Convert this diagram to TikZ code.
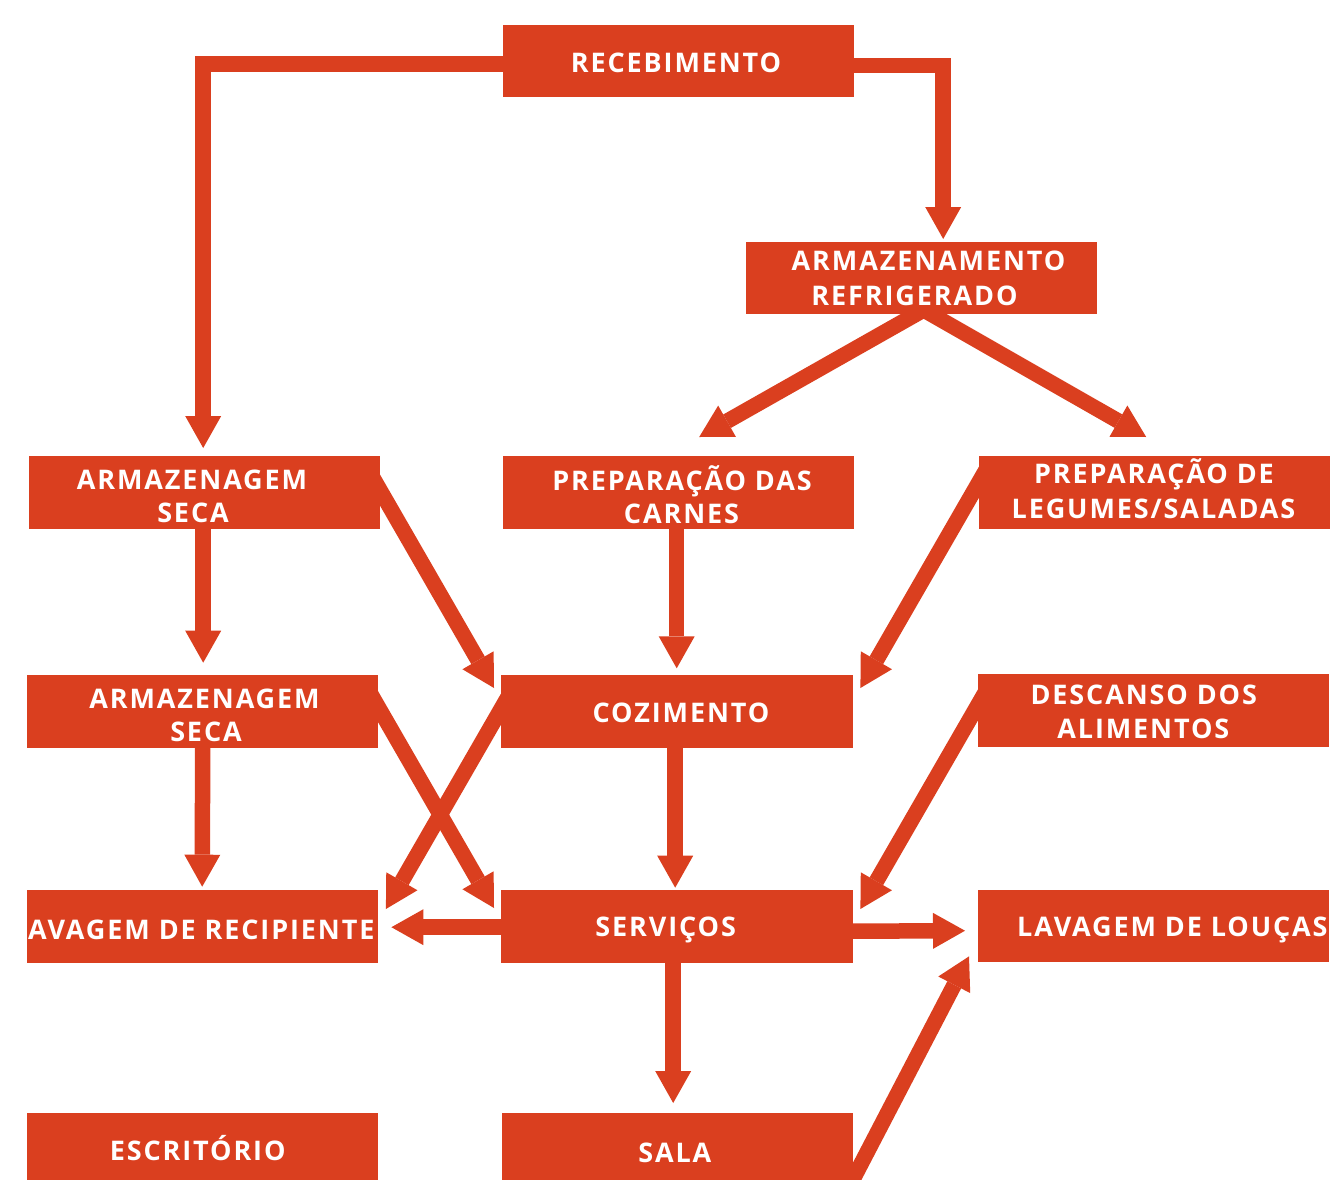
\documentclass[tikz,border=0pt]{standalone}
\usepackage{fontspec}
\setmainfont{Open Sans}
\newfontfamily\lblfam{Open Sans}[LetterSpace=7]
\usetikzlibrary{arrows.meta,calc}
\definecolor{brick}{HTML}{DA3F1F}
\newcommand\lblfont{\lblfam\bfseries\fontsize{27}{29}\selectfont}
\begin{document}
\begin{tikzpicture}[x=1pt,y=-1pt,
  box/.style={fill=brick, draw=none, inner sep=0pt, minimum width=351pt, minimum height=73pt, anchor=north west},
  lbl/.style={text=white, font=\lblfont, inner sep=0pt, anchor=base},
  flow/.style={draw=brick, line width=15.5pt, line join=miter, line cap=butt,
    -{Triangle[length=32pt 0 0,width=36pt 0 0,line width=0pt]}},
]
\useasboundingbox (0,0) rectangle (1338,1180);
% boxes
\node[box, minimum height=72pt] (rec) at (503,25) {};
\node[box, minimum height=72pt] (ref) at (746,242) {};
\node[box] (sec1) at (29,456) {};
\node[box] (car) at (503,456) {};
\node[box] (leg) at (979,456) {};
\node[box] (sec2) at (27,675) {};
\node[box, minimum width=352pt] (coz) at (501,675) {};
\node[box] (des) at (978,674) {};
\node[box] (lrec) at (27,890) {};
\node[box, minimum width=352pt] (ser) at (501,890) {};
\node[box, minimum height=72pt] (lou) at (978,890) {};
\node[box] (esc) at (27,1113) {};
\node[box] (sala) at (502,1113) {};
% connectors
\draw[flow] ($(rec.west)+(2,3)$) -| ($(sec1.north)+(-1.5,-8)$);
\draw[flow] ($(rec.east)+(-2,4.5)$) -| ($(ref.north)+(21.5,-3)$);
\coordinate (apex) at ($(ref.south)+(2,-4.5)$);
\draw[flow] (apex) -- ($(car.north)+(20.5,-19)$);
\draw[flow] (apex) -- ($(leg.north)+(-8.5,-19)$);
\draw[flow] ($(sec1.south)+(-1.5,-2)$) -- ($(sec2.north)+(0.5,-12.3)$);
\draw[flow] ($(sec1.east)+(-8,-15.8)$) -- ($(coz.north west)+(-7,13)$);
\draw[flow] ($(car.south)+(-2,-2)$) -- ($(coz.north)+(-0.5,-6.7)$);
\draw[flow] ($(leg.west)+(8,-24.5)$) -- ($(coz.north east)+(7,13)$);
\draw[flow] ($(sec2.south)+(0,-2)$) -- ($(lrec.north)+(-0.5,-3.3)$);
\draw[flow] ($(sec2.east)+(-8,-18.3)$) -- ($(ser.north west)+(-7,18)$);
\draw[flow] ($(coz.west)+(8,-16.5)$) -- ($(lrec.north east)+(7.5,19)$);
\draw[flow] ($(coz.south)+(-2,-2)$) -- ($(ser.north)+(-2,-2.3)$);
\draw[flow] ($(des.west)+(8,-19.7)$) -- ($(ser.north east)+(7,19)$);
\draw[flow] ($(ser.west)+(2,0.5)$) -- ($(lrec.east)+(13,0.5)$);
\draw[flow] ($(ser.east)+(-2,4.5)$) -- ($(lou.west)+(-13,4.5)$);
\draw[flow] ($(ser.south)+(-4,-2)$) -- ($(sala.north)+(-4.5,-10)$);
\draw[flow] ($(sala.south east)+(-2,-4)$) -- ($(lou.south west)+(-9,-6)$);
% labels
\node[lbl] (t1) at (676,73) {RECEBIMENTO};
\node[lbl] (t2a) at (928.5,270.5) {ARMAZENAMENTO};
\node[lbl] (t2b) at (914.5,305) {REFRIGERADO};
\node[lbl] (t3a) at (192,489) {ARMAZENAGEM};
\node[lbl] (t3b) at (193,522.5) {SECA};
\node[lbl] (t4a) at (682,490) {PREPARAÇÃO DAS};
\node[lbl] (t4b) at (681.5,523) {CARNES};
\node[lbl] (t5a) at (1154,483) {PREPARAÇÃO DE};
\node[lbl] (t5b) at (1153.5,518) {LEGUMES/SALADAS};
\node[lbl] (t6a) at (204.5,708) {ARMAZENAGEM};
\node[lbl] (t6b) at (206,741.5) {SECA};
\node[lbl] (t7) at (681,722) {COZIMENTO};
\node[lbl] (t8a) at (1143.7,704) {DESCANSO DOS};
\node[lbl] (t8b) at (1143.3,738) {ALIMENTOS};
\node[lbl, anchor=base west] (t9) at (28,939) {AVAGEM DE RECIPIENTE};
\node[lbl] (t10) at (665.7,936.7) {SERVIÇOS};
\begin{scope}
\clip (lou.north west) rectangle (lou.south east);
\node[lbl, anchor=base west] (t11) at (1017,936) {LAVAGEM DE LOUÇAS};
\end{scope}
\node[lbl] (t12) at (197.7,1160.7) {ESCRITÓRIO};
\node[lbl] (t13) at (674.8,1162.7) {SALA};
\end{tikzpicture}
\end{document}
